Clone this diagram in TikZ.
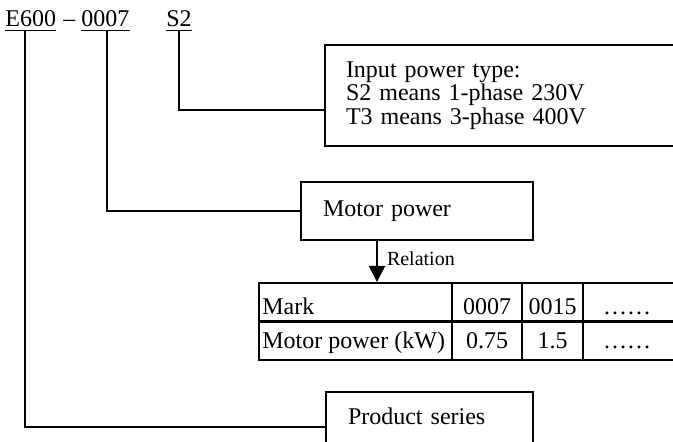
\documentclass[tikz,border=0pt]{standalone}
\usepackage{fontspec}
\setmainfont{Liberation Serif}
\usetikzlibrary{arrows.meta,positioning}

\tikzset{
	kennung/.style={inner xsep=0pt, inner ysep=1.5pt, anchor=base west, font=\fontsize{12}{14}\selectfont},
	kasten/.style={draw, line width=1pt, anchor=north west, align=left, inner xsep=10.5pt, font=\fontsize{12}{10.5}\selectfont},
	linie/.style={line width=1pt},
	tablinie/.style={line width=1.2pt},
	zelle/.style={inner sep=0pt, font=\fontsize{12}{14}\selectfont}
}

\begin{document}
\begin{tikzpicture}[x=0.5pt,y=-0.5pt]
\useasboundingbox (0,0) rectangle (673,442);

% Kennung
\node[kennung] (serie) at (5,27) {E600};
\node[kennung] (strich) at (63,27) {--};
\node[kennung] (leistung) at (81,27) {0007};
\node[kennung] (typ) at (166,27) {S2};
\foreach \n in {serie,leistung,typ}{
	\draw[line width=0.8pt] (\n.south west) -- (\n.south east);
}

% Kaesten
\node[kasten, text width=167pt, minimum height=50.5pt] (eingang) at (324,44)
	{Input power type:\\S2 means 1-phase 230V\\T3 means 3-phase 400V};
\node[kasten, text width=94pt, inner xsep=11pt, minimum height=29pt] (motor) at (300,181)
	{Motor power};
\node[kasten, text width=81.5pt, inner xsep=11pt, minimum height=35pt, text height=8pt, text depth=11pt] (produkt) at (325,391)
	{Product series};

% Verbindungen
\draw[linie] (typ.south) |- ([yshift=-7.5pt]eingang.west);
\draw[linie] ([xshift=1pt]leistung.south) |- (motor.west);
\draw[linie] ([xshift=-2.65pt]serie.south) |- (produkt.west);

% Tabelle
\node[draw, tablinie, anchor=north west, minimum width=211pt, minimum height=38.5pt, inner sep=0pt] (tabelle) at (258,282) {};
\draw[tablinie] (tabelle.west) -- (tabelle.east);
\foreach \x in {452,522,583}{
	\draw[tablinie] (\x,0 |- tabelle.north) -- (\x,0 |- tabelle.south);
}
\node[zelle, anchor=base west] (mark) at (262,315) {Mark};
\node[zelle, anchor=base] (mark1) at (487,315) {0007};
\node[zelle, anchor=base] (mark2) at (552.5,315) {0015};
\node[zelle, anchor=base] (mark3) at (627,315) {……};
\node[zelle, anchor=base west] (kw) at (262,349) {Motor power (kW)};
\node[zelle, anchor=base] (kw1) at (487,349) {0.75};
\node[zelle, anchor=base] (kw2) at (552.5,349) {1.5};
\node[zelle, anchor=base] (kw3) at (627,349) {……};

\draw[linie, -{Triangle[length=8pt,width=8pt]}] ([xshift=-20pt]motor.south) -- ([xshift=-20pt]motor.south |- tabelle.north)
	node[midway, right, inner xsep=4.5pt, yshift=1.5pt, font=\fontsize{10}{12}\selectfont] (relation) {Relation};
\end{tikzpicture}
\end{document}
